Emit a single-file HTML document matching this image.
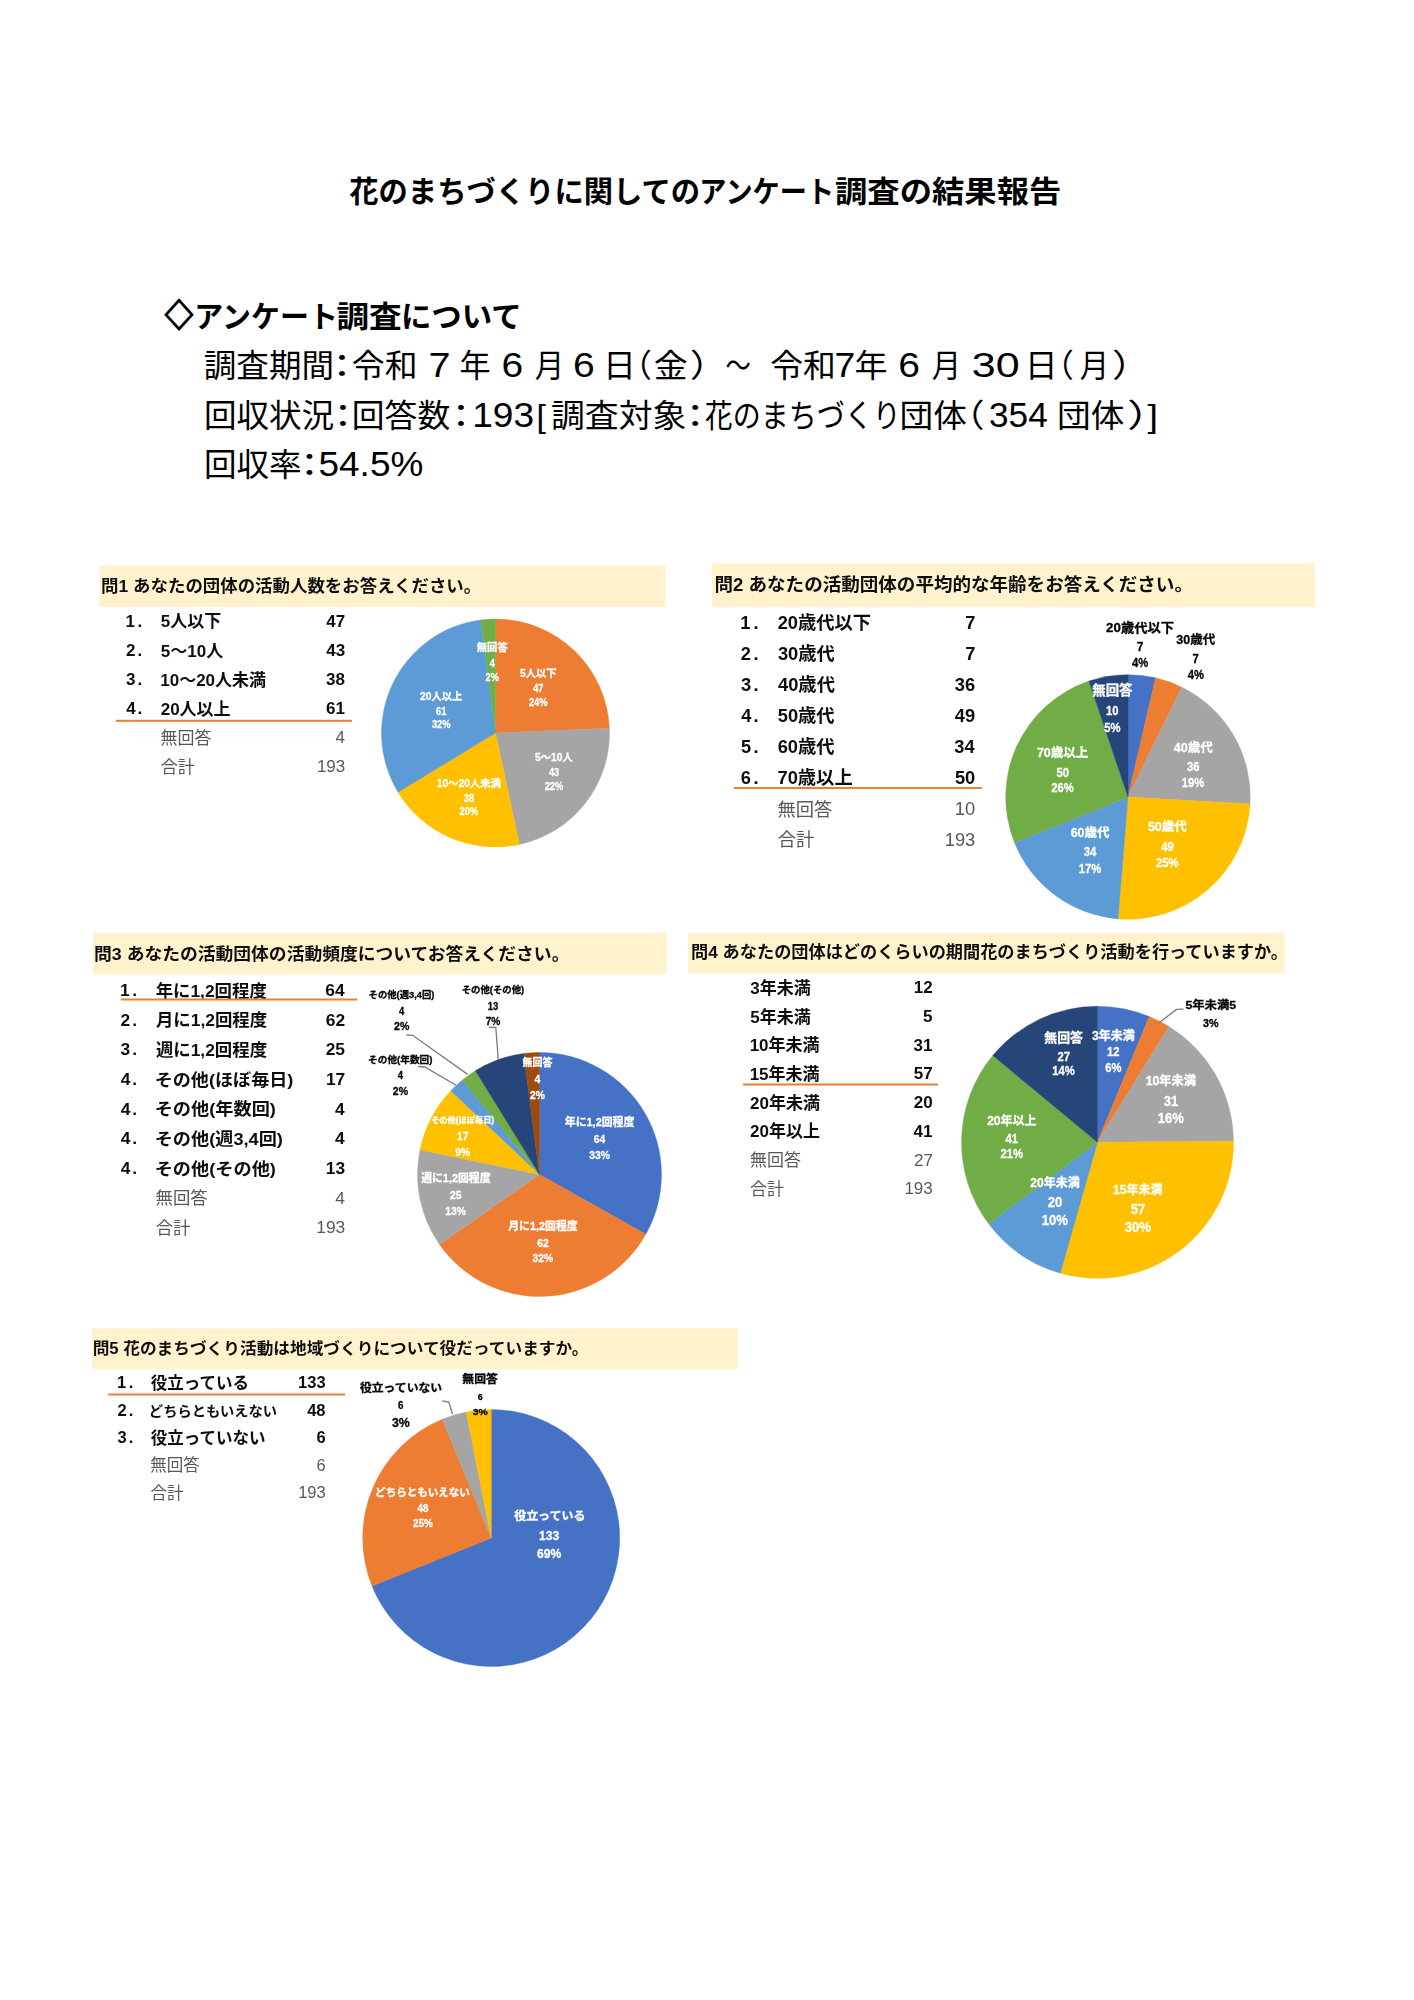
<!DOCTYPE html>
<html lang="ja">
<head>
<meta charset="utf-8">
<title>花のまちづくりに関してのアンケート調査の結果報告</title>
<style>
html,body{margin:0;padding:0;background:#fff;}
body{width:1414px;height:2000px;overflow:hidden;}
svg{display:block;}
text{font-family:"Liberation Sans","Noto Sans CJK JP",sans-serif;white-space:pre;}
</style>
</head>
<body>
<svg width="1414" height="2000" viewBox="0 0 1414 2000">
<rect x="0" y="0" width="1414" height="2000" fill="#ffffff"/>
<text x="349.23" y="202.30" font-size="30" font-weight="700" fill="#000" textLength="350.90" lengthAdjust="spacingAndGlyphs">花のまちづくりに関しての</text>
<text x="699.35" y="202.30" font-size="30" font-weight="700" fill="#000" textLength="134.78" lengthAdjust="spacingAndGlyphs">アンケート</text>
<text x="835.03" y="202.30" font-size="30" font-weight="700" fill="#000" textLength="226.31" lengthAdjust="spacingAndGlyphs">調査の結果報告</text>
<text x="164.86" y="327.30" font-size="31.5" font-weight="700" fill="#000" textLength="28.48" lengthAdjust="spacingAndGlyphs" stroke="#000" stroke-width="1.4">◇</text>
<text x="194.25" y="326.50" font-size="30" font-weight="700" fill="#000" textLength="143.61" lengthAdjust="spacingAndGlyphs">アンケート</text>
<text x="336.42" y="326.50" font-size="30" font-weight="700" fill="#000" textLength="65.23" lengthAdjust="spacingAndGlyphs">調査</text>
<text x="400.92" y="326.50" font-size="30" font-weight="700" fill="#000" textLength="120.75" lengthAdjust="spacingAndGlyphs">について</text>
<text x="203.76" y="377.20" font-size="32" fill="#000" textLength="130.27" lengthAdjust="spacingAndGlyphs">調査期間</text>
<text x="322.80" y="377.20" font-size="32" fill="#000" textLength="38.40" lengthAdjust="spacingAndGlyphs">：</text>
<text x="351.88" y="377.20" font-size="32" fill="#000" textLength="65.70" lengthAdjust="spacingAndGlyphs">令和</text>
<text x="428.47" y="377.20" font-size="35" fill="#000" textLength="22.02" lengthAdjust="spacingAndGlyphs">7</text>
<text x="459.51" y="377.20" font-size="32" fill="#000" textLength="31.13" lengthAdjust="spacingAndGlyphs">年</text>
<text x="501.52" y="377.20" font-size="35" fill="#000" textLength="21.70" lengthAdjust="spacingAndGlyphs">6</text>
<text x="534.85" y="377.20" font-size="32" fill="#000" textLength="29.42" lengthAdjust="spacingAndGlyphs">月</text>
<text x="573.02" y="377.20" font-size="35" fill="#000" textLength="21.70" lengthAdjust="spacingAndGlyphs">6</text>
<text x="603.00" y="377.20" font-size="32" fill="#000" textLength="32.93" lengthAdjust="spacingAndGlyphs">日</text>
<text x="619.46" y="377.20" font-size="32" fill="#000" textLength="32.43" lengthAdjust="spacingAndGlyphs">（</text>
<text x="653.74" y="377.20" font-size="32" fill="#000" textLength="33.98" lengthAdjust="spacingAndGlyphs">金</text>
<text x="689.84" y="377.20" font-size="32" fill="#000" textLength="38.22" lengthAdjust="spacingAndGlyphs">）</text>
<text x="725.44" y="377.20" font-size="32" fill="#000" textLength="25.33" lengthAdjust="spacingAndGlyphs">～</text>
<text x="770.28" y="377.20" font-size="32" fill="#000" textLength="65.70" lengthAdjust="spacingAndGlyphs">令和</text>
<text x="834.58" y="377.20" font-size="35" fill="#000" textLength="20.80" lengthAdjust="spacingAndGlyphs">7</text>
<text x="854.41" y="377.20" font-size="32" fill="#000" textLength="33.11" lengthAdjust="spacingAndGlyphs">年</text>
<text x="898.32" y="377.20" font-size="35" fill="#000" textLength="21.70" lengthAdjust="spacingAndGlyphs">6</text>
<text x="931.75" y="377.20" font-size="32" fill="#000" textLength="29.29" lengthAdjust="spacingAndGlyphs">月</text>
<text x="971.86" y="377.20" font-size="35" fill="#000" textLength="47.82" lengthAdjust="spacingAndGlyphs">30</text>
<text x="1024.80" y="377.20" font-size="32" fill="#000" textLength="32.93" lengthAdjust="spacingAndGlyphs">日</text>
<text x="1041.63" y="377.20" font-size="32" fill="#000" textLength="32.05" lengthAdjust="spacingAndGlyphs">（</text>
<text x="1079.65" y="377.20" font-size="32" fill="#000" textLength="29.29" lengthAdjust="spacingAndGlyphs">月</text>
<text x="1111.92" y="377.20" font-size="32" fill="#000" textLength="38.61" lengthAdjust="spacingAndGlyphs">）</text>
<text x="203.93" y="426.80" font-size="32" fill="#000" textLength="130.21" lengthAdjust="spacingAndGlyphs">回収状況</text>
<text x="323.70" y="426.80" font-size="32" fill="#000" textLength="38.40" lengthAdjust="spacingAndGlyphs">：</text>
<text x="351.81" y="426.80" font-size="32" fill="#000" textLength="98.48" lengthAdjust="spacingAndGlyphs">回答数</text>
<text x="441.70" y="426.80" font-size="32" fill="#000" textLength="38.40" lengthAdjust="spacingAndGlyphs">：</text>
<text x="472.18" y="426.80" font-size="35" fill="#000" textLength="61.85" lengthAdjust="spacingAndGlyphs">193</text>
<text x="536.60" y="426.80" font-size="32" fill="#000" textLength="9.37" lengthAdjust="spacingAndGlyphs">[</text>
<text x="551.01" y="426.80" font-size="32" fill="#000" textLength="135.37" lengthAdjust="spacingAndGlyphs">調査対象</text>
<text x="676.05" y="426.80" font-size="32" fill="#000" textLength="38.40" lengthAdjust="spacingAndGlyphs">：</text>
<text x="704.84" y="426.80" font-size="32" fill="#000" textLength="195.88" lengthAdjust="spacingAndGlyphs">花のまちづくり</text>
<text x="899.64" y="426.80" font-size="32" fill="#000" textLength="67.27" lengthAdjust="spacingAndGlyphs">団体</text>
<text x="948.38" y="426.80" font-size="32" fill="#000" textLength="36.29" lengthAdjust="spacingAndGlyphs">（</text>
<text x="989.06" y="426.80" font-size="35" fill="#000" textLength="58.67" lengthAdjust="spacingAndGlyphs">354</text>
<text x="1057.04" y="426.80" font-size="32" fill="#000" textLength="67.37" lengthAdjust="spacingAndGlyphs">団体</text>
<text x="1126.98" y="426.80" font-size="32" fill="#000" textLength="44.02" lengthAdjust="spacingAndGlyphs">）</text>
<text x="1147.61" y="426.80" font-size="32" fill="#000" textLength="10.49" lengthAdjust="spacingAndGlyphs">]</text>
<text x="203.93" y="476.30" font-size="32" fill="#000" textLength="97.77" lengthAdjust="spacingAndGlyphs">回収率</text>
<text x="290.30" y="476.30" font-size="32" fill="#000" textLength="38.40" lengthAdjust="spacingAndGlyphs">：</text>
<text x="318.52" y="476.30" font-size="35" fill="#000" textLength="104.80" lengthAdjust="spacingAndGlyphs">54.5%</text>
<defs><filter id="soft" x="-2%" y="-2%" width="104%" height="104%"><feGaussianBlur stdDeviation="0.55"/></filter></defs>
<g filter="url(#soft)">
<rect x="99.5" y="565.5" width="566" height="41.3" fill="#FFF2CC"/>
<text x="101.11" y="591.99" font-size="17" font-weight="700" fill="#111111" textLength="380.12" lengthAdjust="spacingAndGlyphs">問1 あなたの団体の活動人数をお答えください。</text>
<text x="125.43" y="626.85" font-size="17" font-weight="700" fill="#111111">1</text>
<text x="137.59" y="626.85" font-size="17" font-weight="700" fill="#111111">.</text>
<text x="160.78" y="627.25" font-size="17" font-weight="700" fill="#111111">5人以下</text>
<text x="326.34" y="626.85" font-size="17" font-weight="700" fill="#111111">47</text>
<text x="125.91" y="656.44" font-size="17" font-weight="700" fill="#111111">2</text>
<text x="137.59" y="656.35" font-size="17" font-weight="700" fill="#111111">.</text>
<text x="160.78" y="656.83" font-size="17" font-weight="700" fill="#111111">5～10人</text>
<text x="326.21" y="656.34" font-size="17" font-weight="700" fill="#111111">43</text>
<text x="126.11" y="685.34" font-size="17" font-weight="700" fill="#111111">3</text>
<text x="137.59" y="685.35" font-size="17" font-weight="700" fill="#111111">.</text>
<text x="160.23" y="685.96" font-size="17" font-weight="700" fill="#111111">10～20人未満</text>
<text x="326.11" y="685.34" font-size="17" font-weight="700" fill="#111111">38</text>
<text x="126.24" y="714.35" font-size="17" font-weight="700" fill="#111111">4</text>
<text x="137.59" y="714.35" font-size="17" font-weight="700" fill="#111111">.</text>
<text x="160.71" y="714.84" font-size="17" font-weight="700" fill="#111111">20人以上</text>
<text x="326.06" y="714.35" font-size="17" font-weight="700" fill="#111111">61</text>
<text x="160.59" y="744.07" font-size="17" fill="#595959">無回答</text>
<text x="335.54" y="743.35" font-size="17" fill="#595959">4</text>
<text x="160.72" y="772.93" font-size="17" fill="#595959">合計</text>
<text x="316.88" y="772.35" font-size="17" fill="#595959">193</text>
<rect x="116" y="719.8" width="236" height="2" fill="#ED7D31"/>
<path d="M495.50 733.00L495.50 619.00A114.00 114.00 0 0 1 609.41 728.36Z" fill="#ED7D31" stroke="#ED7D31" stroke-width="0.4"/>
<path d="M495.50 733.00L609.41 728.36A114.00 114.00 0 0 1 519.44 844.46Z" fill="#A5A5A5" stroke="#A5A5A5" stroke-width="0.4"/>
<path d="M495.50 733.00L519.44 844.46A114.00 114.00 0 0 1 398.03 792.13Z" fill="#FFC000" stroke="#FFC000" stroke-width="0.4"/>
<path d="M495.50 733.00L398.03 792.13A114.00 114.00 0 0 1 480.70 619.97Z" fill="#5B9BD5" stroke="#5B9BD5" stroke-width="0.4"/>
<path d="M495.50 733.00L480.70 619.97A114.00 114.00 0 0 1 495.50 619.00Z" fill="#70AD47" stroke="#70AD47" stroke-width="0.4"/>
<text x="476.67" y="651.47" font-size="10.3" font-weight="700" fill="#fff" textLength="31.19" lengthAdjust="spacingAndGlyphs" stroke="#fff" stroke-width="0.3">無回答</text>
<text x="489.68" y="667.34" font-size="10.3" font-weight="700" fill="#fff" textLength="5.16" lengthAdjust="spacingAndGlyphs" stroke="#fff" stroke-width="0.3">4</text>
<text x="485.56" y="680.80" font-size="10.3" font-weight="700" fill="#fff" textLength="13.40" lengthAdjust="spacingAndGlyphs" stroke="#fff" stroke-width="0.3">2%</text>
<text x="519.99" y="676.69" font-size="10.3" font-weight="700" fill="#fff" stroke="#fff" stroke-width="0.3">5人以下</text>
<text x="533.18" y="691.54" font-size="10.3" font-weight="700" fill="#fff" textLength="10.31" lengthAdjust="spacingAndGlyphs" stroke="#fff" stroke-width="0.3">47</text>
<text x="528.88" y="705.60" font-size="10.3" font-weight="700" fill="#fff" textLength="18.55" lengthAdjust="spacingAndGlyphs" stroke="#fff" stroke-width="0.3">24%</text>
<text x="420.06" y="699.84" font-size="10.3" font-weight="700" fill="#fff" stroke="#fff" stroke-width="0.3">20人以上</text>
<text x="436.00" y="715.05" font-size="10.3" font-weight="700" fill="#fff" textLength="10.31" lengthAdjust="spacingAndGlyphs" stroke="#fff" stroke-width="0.3">61</text>
<text x="431.94" y="728.34" font-size="10.3" font-weight="700" fill="#fff" textLength="18.55" lengthAdjust="spacingAndGlyphs" stroke="#fff" stroke-width="0.3">32%</text>
<text x="535.03" y="761.24" font-size="10.3" font-weight="700" fill="#fff" stroke="#fff" stroke-width="0.3">5～10人</text>
<text x="548.94" y="776.44" font-size="10.3" font-weight="700" fill="#fff" textLength="10.31" lengthAdjust="spacingAndGlyphs" stroke="#fff" stroke-width="0.3">43</text>
<text x="544.68" y="790.10" font-size="10.3" font-weight="700" fill="#fff" textLength="18.55" lengthAdjust="spacingAndGlyphs" stroke="#fff" stroke-width="0.3">22%</text>
<text x="436.69" y="786.51" font-size="10.3" font-weight="700" fill="#fff" stroke="#fff" stroke-width="0.3">10～20人未満</text>
<text x="463.78" y="801.54" font-size="10.3" font-weight="700" fill="#fff" textLength="10.31" lengthAdjust="spacingAndGlyphs" stroke="#fff" stroke-width="0.3">38</text>
<text x="459.58" y="815.45" font-size="10.3" font-weight="700" fill="#fff" textLength="18.55" lengthAdjust="spacingAndGlyphs" stroke="#fff" stroke-width="0.3">20%</text>
<rect x="712" y="563" width="603" height="44" fill="#FFF2CC"/>
<text x="714.52" y="591.38" font-size="18" font-weight="700" fill="#111111" textLength="478.43" lengthAdjust="spacingAndGlyphs">問2 あなたの活動団体の平均的な年齢をお答えください。</text>
<text x="740.35" y="628.80" font-size="18.3" font-weight="700" fill="#111111">1</text>
<text x="753.43" y="628.80" font-size="18.3" font-weight="700" fill="#111111">.</text>
<text x="777.67" y="629.44" font-size="18.3" font-weight="700" fill="#111111">20歳代以下</text>
<text x="965.13" y="628.80" font-size="18.3" font-weight="700" fill="#111111">7</text>
<text x="740.87" y="659.89" font-size="18.3" font-weight="700" fill="#111111">2</text>
<text x="753.43" y="659.80" font-size="18.3" font-weight="700" fill="#111111">.</text>
<text x="777.88" y="660.44" font-size="18.3" font-weight="700" fill="#111111">30歳代</text>
<text x="965.13" y="659.80" font-size="18.3" font-weight="700" fill="#111111">7</text>
<text x="741.08" y="690.79" font-size="18.3" font-weight="700" fill="#111111">3</text>
<text x="753.43" y="690.80" font-size="18.3" font-weight="700" fill="#111111">.</text>
<text x="778.02" y="691.44" font-size="18.3" font-weight="700" fill="#111111">40歳代</text>
<text x="954.81" y="690.79" font-size="18.3" font-weight="700" fill="#111111">36</text>
<text x="741.22" y="721.80" font-size="18.3" font-weight="700" fill="#111111">4</text>
<text x="753.43" y="721.80" font-size="18.3" font-weight="700" fill="#111111">.</text>
<text x="777.74" y="722.44" font-size="18.3" font-weight="700" fill="#111111">50歳代</text>
<text x="954.82" y="721.80" font-size="18.3" font-weight="700" fill="#111111">49</text>
<text x="740.94" y="752.71" font-size="18.3" font-weight="700" fill="#111111">5</text>
<text x="753.43" y="752.80" font-size="18.3" font-weight="700" fill="#111111">.</text>
<text x="777.63" y="753.44" font-size="18.3" font-weight="700" fill="#111111">60歳代</text>
<text x="954.24" y="752.79" font-size="18.3" font-weight="700" fill="#111111">34</text>
<text x="740.83" y="783.80" font-size="18.3" font-weight="700" fill="#111111">6</text>
<text x="753.43" y="783.80" font-size="18.3" font-weight="700" fill="#111111">.</text>
<text x="777.51" y="784.44" font-size="18.3" font-weight="700" fill="#111111">70歳以上</text>
<text x="954.90" y="783.80" font-size="18.3" font-weight="700" fill="#111111">50</text>
<text x="777.53" y="815.57" font-size="18.3" fill="#595959">無回答</text>
<text x="954.86" y="814.80" font-size="18.3" fill="#595959">10</text>
<text x="777.68" y="846.43" font-size="18.3" fill="#595959">合計</text>
<text x="944.77" y="845.80" font-size="18.3" fill="#595959">193</text>
<rect x="734" y="787" width="248" height="2" fill="#ED7D31"/>
<path d="M1128.00 797.00L1128.00 674.70A122.30 122.30 0 0 1 1155.63 677.86Z" fill="#4472C4" stroke="#4472C4" stroke-width="0.4"/>
<path d="M1128.00 797.00L1155.63 677.86A122.30 122.30 0 0 1 1181.83 687.18Z" fill="#ED7D31" stroke="#ED7D31" stroke-width="0.4"/>
<path d="M1128.00 797.00L1181.83 687.18A122.30 122.30 0 0 1 1250.10 803.96Z" fill="#A5A5A5" stroke="#A5A5A5" stroke-width="0.4"/>
<path d="M1128.00 797.00L1250.10 803.96A122.30 122.30 0 0 1 1118.06 918.90Z" fill="#FFC000" stroke="#FFC000" stroke-width="0.4"/>
<path d="M1128.00 797.00L1118.06 918.90A122.30 122.30 0 0 1 1014.54 842.65Z" fill="#5B9BD5" stroke="#5B9BD5" stroke-width="0.4"/>
<path d="M1128.00 797.00L1014.54 842.65A122.30 122.30 0 0 1 1088.88 681.12Z" fill="#70AD47" stroke="#70AD47" stroke-width="0.4"/>
<path d="M1128.00 797.00L1088.88 681.12A122.30 122.30 0 0 1 1128.00 674.70Z" fill="#264478" stroke="#264478" stroke-width="0.4"/>
<text x="1106.14" y="631.63" font-size="13" font-weight="700" fill="#000" textLength="67.94" lengthAdjust="spacingAndGlyphs" stroke="#000" stroke-width="0.3">20歳代以下</text>
<text x="1136.88" y="651.30" font-size="12.5" font-weight="700" fill="#000" textLength="6.26" lengthAdjust="spacingAndGlyphs" stroke="#000" stroke-width="0.3">7</text>
<text x="1131.93" y="667.30" font-size="12.5" font-weight="700" fill="#000" textLength="16.26" lengthAdjust="spacingAndGlyphs" stroke="#000" stroke-width="0.3">4%</text>
<text x="1176.25" y="643.74" font-size="12.5" font-weight="700" fill="#000" stroke="#000" stroke-width="0.3">30歳代</text>
<text x="1192.58" y="663.10" font-size="12.5" font-weight="700" fill="#000" textLength="6.26" lengthAdjust="spacingAndGlyphs" stroke="#000" stroke-width="0.3">7</text>
<text x="1187.63" y="678.50" font-size="12.5" font-weight="700" fill="#000" textLength="16.26" lengthAdjust="spacingAndGlyphs" stroke="#000" stroke-width="0.3">4%</text>
<text x="1092.24" y="695.08" font-size="13.2" font-weight="700" fill="#fff" textLength="40.23" lengthAdjust="spacingAndGlyphs" stroke="#fff" stroke-width="0.3">無回答</text>
<text x="1106.02" y="715.20" font-size="12.5" font-weight="700" fill="#fff" textLength="12.51" lengthAdjust="spacingAndGlyphs" stroke="#fff" stroke-width="0.3">10</text>
<text x="1104.25" y="732.14" font-size="12.5" font-weight="700" fill="#fff" textLength="16.26" lengthAdjust="spacingAndGlyphs" stroke="#fff" stroke-width="0.3">5%</text>
<text x="1173.80" y="752.24" font-size="12.5" font-weight="700" fill="#fff" stroke="#fff" stroke-width="0.3">40歳代</text>
<text x="1187.02" y="771.29" font-size="12.5" font-weight="700" fill="#fff" textLength="12.51" lengthAdjust="spacingAndGlyphs" stroke="#fff" stroke-width="0.3">36</text>
<text x="1181.74" y="787.10" font-size="12.5" font-weight="700" fill="#fff" textLength="22.52" lengthAdjust="spacingAndGlyphs" stroke="#fff" stroke-width="0.3">19%</text>
<text x="1036.89" y="757.44" font-size="12.5" font-weight="700" fill="#fff" stroke="#fff" stroke-width="0.3">70歳以上</text>
<text x="1056.40" y="776.70" font-size="12.5" font-weight="700" fill="#fff" textLength="12.51" lengthAdjust="spacingAndGlyphs" stroke="#fff" stroke-width="0.3">50</text>
<text x="1051.30" y="792.10" font-size="12.5" font-weight="700" fill="#fff" textLength="22.52" lengthAdjust="spacingAndGlyphs" stroke="#fff" stroke-width="0.3">26%</text>
<text x="1147.91" y="831.04" font-size="12.5" font-weight="700" fill="#fff" stroke="#fff" stroke-width="0.3">50歳代</text>
<text x="1161.27" y="850.50" font-size="12.5" font-weight="700" fill="#fff" textLength="12.51" lengthAdjust="spacingAndGlyphs" stroke="#fff" stroke-width="0.3">49</text>
<text x="1156.10" y="866.80" font-size="12.5" font-weight="700" fill="#fff" textLength="22.52" lengthAdjust="spacingAndGlyphs" stroke="#fff" stroke-width="0.3">25%</text>
<text x="1070.67" y="836.74" font-size="12.5" font-weight="700" fill="#fff" stroke="#fff" stroke-width="0.3">60歳代</text>
<text x="1083.84" y="855.89" font-size="12.5" font-weight="700" fill="#fff" textLength="12.51" lengthAdjust="spacingAndGlyphs" stroke="#fff" stroke-width="0.3">34</text>
<text x="1078.74" y="872.50" font-size="12.5" font-weight="700" fill="#fff" textLength="22.52" lengthAdjust="spacingAndGlyphs" stroke="#fff" stroke-width="0.3">17%</text>
<rect x="93" y="932.5" width="573.5" height="42" fill="#FFF2CC"/>
<text x="94.08" y="959.61" font-size="17.3" font-weight="700" fill="#111111" textLength="475.34" lengthAdjust="spacingAndGlyphs">問3 あなたの活動団体の活動頻度についてお答えください。</text>
<text x="119.90" y="995.99" font-size="17.4" font-weight="700" fill="#111111">1</text>
<text x="132.35" y="995.99" font-size="17.4" font-weight="700" fill="#111111">.</text>
<text x="155.66" y="996.62" font-size="17.4" font-weight="700" fill="#111111">年に1,2回程度</text>
<text x="325.24" y="995.99" font-size="17.4" font-weight="700" fill="#111111">64</text>
<text x="120.40" y="1025.77" font-size="17.4" font-weight="700" fill="#111111">2</text>
<text x="132.35" y="1025.69" font-size="17.4" font-weight="700" fill="#111111">.</text>
<text x="155.93" y="1026.29" font-size="17.4" font-weight="700" fill="#111111">月に1,2回程度</text>
<text x="325.84" y="1025.69" font-size="17.4" font-weight="700" fill="#111111">62</text>
<text x="120.60" y="1055.28" font-size="17.4" font-weight="700" fill="#111111">3</text>
<text x="132.35" y="1055.29" font-size="17.4" font-weight="700" fill="#111111">.</text>
<text x="155.92" y="1055.89" font-size="17.4" font-weight="700" fill="#111111">週に1,2回程度</text>
<text x="325.63" y="1055.29" font-size="17.4" font-weight="700" fill="#111111">25</text>
<text x="120.74" y="1084.99" font-size="17.4" font-weight="700" fill="#111111">4</text>
<text x="132.35" y="1084.99" font-size="17.4" font-weight="700" fill="#111111">.</text>
<text x="154.69" y="1085.59" font-size="17.4" font-weight="700" fill="#111111" textLength="138.71" lengthAdjust="spacingAndGlyphs">その他(ほぼ毎日)</text>
<text x="325.91" y="1084.99" font-size="17.4" font-weight="700" fill="#111111">17</text>
<text x="120.74" y="1114.69" font-size="17.4" font-weight="700" fill="#111111">4</text>
<text x="132.35" y="1114.69" font-size="17.4" font-weight="700" fill="#111111">.</text>
<text x="154.68" y="1115.32" font-size="17.4" font-weight="700" fill="#111111" textLength="121.22" lengthAdjust="spacingAndGlyphs">その他(年数回)</text>
<text x="334.92" y="1114.69" font-size="17.4" font-weight="700" fill="#111111">4</text>
<text x="120.74" y="1144.29" font-size="17.4" font-weight="700" fill="#111111">4</text>
<text x="132.35" y="1144.29" font-size="17.4" font-weight="700" fill="#111111">.</text>
<text x="154.68" y="1144.89" font-size="17.4" font-weight="700" fill="#111111" textLength="128.22" lengthAdjust="spacingAndGlyphs">その他(週3,4回)</text>
<text x="334.92" y="1144.29" font-size="17.4" font-weight="700" fill="#111111">4</text>
<text x="120.74" y="1173.99" font-size="17.4" font-weight="700" fill="#111111">4</text>
<text x="132.35" y="1173.99" font-size="17.4" font-weight="700" fill="#111111">.</text>
<text x="154.68" y="1174.59" font-size="17.4" font-weight="700" fill="#111111" textLength="121.22" lengthAdjust="spacingAndGlyphs">その他(その他)</text>
<text x="325.77" y="1173.98" font-size="17.4" font-weight="700" fill="#111111">13</text>
<text x="155.57" y="1204.43" font-size="17.4" fill="#595959">無回答</text>
<text x="335.33" y="1203.69" font-size="17.4" fill="#595959">4</text>
<text x="155.71" y="1233.89" font-size="17.4" fill="#595959">合計</text>
<text x="316.23" y="1233.29" font-size="17.4" fill="#595959">193</text>
<rect x="120.8" y="998.5" width="236.2" height="2" fill="#ED7D31"/>
<path d="M539.50 1174.50L539.50 1052.50A122.00 122.00 0 0 1 645.81 1234.35Z" fill="#4472C4" stroke="#4472C4" stroke-width="0.4"/>
<path d="M539.50 1174.50L645.81 1234.35A122.00 122.00 0 0 1 439.53 1244.43Z" fill="#ED7D31" stroke="#ED7D31" stroke-width="0.4"/>
<path d="M539.50 1174.50L439.53 1244.43A122.00 122.00 0 0 1 420.02 1149.85Z" fill="#A5A5A5" stroke="#A5A5A5" stroke-width="0.4"/>
<path d="M539.50 1174.50L420.02 1149.85A122.00 122.00 0 0 1 450.81 1090.73Z" fill="#FFC000" stroke="#FFC000" stroke-width="0.4"/>
<path d="M539.50 1174.50L450.81 1090.73A122.00 122.00 0 0 1 462.44 1079.92Z" fill="#5B9BD5" stroke="#5B9BD5" stroke-width="0.4"/>
<path d="M539.50 1174.50L462.44 1079.92A122.00 122.00 0 0 1 475.37 1070.71Z" fill="#70AD47" stroke="#70AD47" stroke-width="0.4"/>
<path d="M539.50 1174.50L475.37 1070.71A122.00 122.00 0 0 1 523.66 1053.53Z" fill="#264478" stroke="#264478" stroke-width="0.4"/>
<path d="M539.50 1174.50L523.66 1053.53A122.00 122.00 0 0 1 539.50 1052.50Z" fill="#9E480E" stroke="#9E480E" stroke-width="0.4"/>
<g fill="none" stroke="#7a7a7a" stroke-width="1.3"><path d="M406.2 1034.8L412.7 1035.3L467.6 1074.4"/><path d="M418.1 1066.5L424.6 1067L456.2 1085.3"/><path d="M488.9 1027.4L495.8 1027.4L498.3 1060"/></g>
<text x="368.62" y="997.88" font-size="9.2" font-weight="700" fill="#000" textLength="65.79" lengthAdjust="spacingAndGlyphs" stroke="#000" stroke-width="0.3">その他(週3,4回)</text>
<text x="399.03" y="1014.61" font-size="10.5" font-weight="700" fill="#000" textLength="5.26" lengthAdjust="spacingAndGlyphs" stroke="#000" stroke-width="0.3">4</text>
<text x="394.03" y="1030.37" font-size="10.8" font-weight="700" fill="#000" textLength="15.24" lengthAdjust="spacingAndGlyphs" stroke="#000" stroke-width="0.3">2%</text>
<text x="461.67" y="992.99" font-size="9.2" font-weight="700" fill="#000" textLength="62.50" lengthAdjust="spacingAndGlyphs" stroke="#000" stroke-width="0.3">その他(その他)</text>
<text x="487.72" y="1009.71" font-size="10.5" font-weight="700" fill="#000" textLength="10.51" lengthAdjust="spacingAndGlyphs" stroke="#000" stroke-width="0.3">13</text>
<text x="485.66" y="1025.42" font-size="10.8" font-weight="700" fill="#000" textLength="14.71" lengthAdjust="spacingAndGlyphs" stroke="#000" stroke-width="0.3">7%</text>
<text x="368.14" y="1062.50" font-size="9.2" font-weight="700" fill="#000" textLength="64.34" lengthAdjust="spacingAndGlyphs" stroke="#000" stroke-width="0.3">その他(年数回)</text>
<text x="397.83" y="1079.41" font-size="10.5" font-weight="700" fill="#000" textLength="5.26" lengthAdjust="spacingAndGlyphs" stroke="#000" stroke-width="0.3">4</text>
<text x="392.83" y="1094.77" font-size="10.8" font-weight="700" fill="#000" textLength="15.24" lengthAdjust="spacingAndGlyphs" stroke="#000" stroke-width="0.3">2%</text>
<text x="522.47" y="1065.65" font-size="10" font-weight="700" fill="#fff" stroke="#fff" stroke-width="0.3">無回答</text>
<text x="534.57" y="1082.86" font-size="11.5" font-weight="700" fill="#fff" textLength="5.76" lengthAdjust="spacingAndGlyphs" stroke="#fff" stroke-width="0.3">4</text>
<text x="529.98" y="1098.51" font-size="11.5" font-weight="700" fill="#fff" textLength="14.96" lengthAdjust="spacingAndGlyphs" stroke="#fff" stroke-width="0.3">2%</text>
<text x="564.80" y="1125.79" font-size="11" font-weight="700" fill="#fff" textLength="69.52" lengthAdjust="spacingAndGlyphs" stroke="#fff" stroke-width="0.3">年に1,2回程度</text>
<text x="593.68" y="1142.96" font-size="11.5" font-weight="700" fill="#fff" textLength="11.51" lengthAdjust="spacingAndGlyphs" stroke="#fff" stroke-width="0.3">64</text>
<text x="589.26" y="1158.65" font-size="11.5" font-weight="700" fill="#fff" textLength="20.72" lengthAdjust="spacingAndGlyphs" stroke="#fff" stroke-width="0.3">33%</text>
<text x="431.17" y="1123.42" font-size="8.5" font-weight="700" fill="#fff" textLength="62.94" lengthAdjust="spacingAndGlyphs" stroke="#fff" stroke-width="0.3">その他(ほぼ毎日)</text>
<text x="456.95" y="1139.56" font-size="11.5" font-weight="700" fill="#fff" textLength="11.51" lengthAdjust="spacingAndGlyphs" stroke="#fff" stroke-width="0.3">17</text>
<text x="455.28" y="1155.66" font-size="11.5" font-weight="700" fill="#fff" textLength="14.96" lengthAdjust="spacingAndGlyphs" stroke="#fff" stroke-width="0.3">9%</text>
<text x="421.16" y="1181.76" font-size="11" font-weight="700" fill="#fff" textLength="69.35" lengthAdjust="spacingAndGlyphs" stroke="#fff" stroke-width="0.3">週に1,2回程度</text>
<text x="450.01" y="1198.76" font-size="11.5" font-weight="700" fill="#fff" textLength="11.51" lengthAdjust="spacingAndGlyphs" stroke="#fff" stroke-width="0.3">25</text>
<text x="445.25" y="1214.65" font-size="11.5" font-weight="700" fill="#fff" textLength="20.72" lengthAdjust="spacingAndGlyphs" stroke="#fff" stroke-width="0.3">13%</text>
<text x="508.27" y="1230.06" font-size="11" font-weight="700" fill="#fff" textLength="69.34" lengthAdjust="spacingAndGlyphs" stroke="#fff" stroke-width="0.3">月に1,2回程度</text>
<text x="537.16" y="1246.86" font-size="11.5" font-weight="700" fill="#fff" textLength="11.51" lengthAdjust="spacingAndGlyphs" stroke="#fff" stroke-width="0.3">62</text>
<text x="532.56" y="1262.45" font-size="11.5" font-weight="700" fill="#fff" textLength="20.72" lengthAdjust="spacingAndGlyphs" stroke="#fff" stroke-width="0.3">32%</text>
<rect x="688" y="932.5" width="596.7" height="41" fill="#FFF2CC"/>
<text x="691.13" y="958.33" font-size="16.8" font-weight="700" fill="#111111" textLength="596.92" lengthAdjust="spacingAndGlyphs">問4 あなたの団体はどのくらいの期間花のまちづくり活動を行っていますか。</text>
<text x="750.31" y="993.99" font-size="17" font-weight="700" fill="#111111">3年未満</text>
<text x="913.77" y="993.44" font-size="17" font-weight="700" fill="#111111">12</text>
<text x="750.18" y="1022.69" font-size="17" font-weight="700" fill="#111111">5年未満</text>
<text x="923.02" y="1021.96" font-size="17" font-weight="700" fill="#111111">5</text>
<text x="749.63" y="1051.39" font-size="17" font-weight="700" fill="#111111">10年未満</text>
<text x="913.56" y="1050.74" font-size="17" font-weight="700" fill="#111111">31</text>
<text x="749.63" y="1079.99" font-size="17" font-weight="700" fill="#111111">15年未満</text>
<text x="913.84" y="1079.26" font-size="17" font-weight="700" fill="#111111">57</text>
<text x="750.11" y="1108.69" font-size="17" font-weight="700" fill="#111111">20年未満</text>
<text x="913.79" y="1108.05" font-size="17" font-weight="700" fill="#111111">20</text>
<text x="750.11" y="1137.39" font-size="17" font-weight="700" fill="#111111">20年以上</text>
<text x="913.56" y="1136.75" font-size="17" font-weight="700" fill="#111111">41</text>
<text x="749.99" y="1166.17" font-size="17" fill="#595959">無回答</text>
<text x="913.95" y="1165.54" font-size="17" fill="#595959">27</text>
<text x="750.12" y="1194.73" font-size="17" fill="#595959">合計</text>
<text x="904.38" y="1194.15" font-size="17" fill="#595959">193</text>
<rect x="743" y="1083.5" width="195" height="2" fill="#ED7D31"/>
<path d="M1097.50 1142.30L1097.50 1006.30A136.00 136.00 0 0 1 1149.29 1016.55Z" fill="#4472C4" stroke="#4472C4" stroke-width="0.4"/>
<path d="M1097.50 1142.30L1149.29 1016.55A136.00 136.00 0 0 1 1168.98 1026.60Z" fill="#ED7D31" stroke="#ED7D31" stroke-width="0.4"/>
<path d="M1097.50 1142.30L1168.98 1026.60A136.00 136.00 0 0 1 1233.50 1141.19Z" fill="#A5A5A5" stroke="#A5A5A5" stroke-width="0.4"/>
<path d="M1097.50 1142.30L1233.50 1141.19A136.00 136.00 0 0 1 1060.34 1273.13Z" fill="#FFC000" stroke="#FFC000" stroke-width="0.4"/>
<path d="M1097.50 1142.30L1060.34 1273.13A136.00 136.00 0 0 1 988.66 1223.84Z" fill="#5B9BD5" stroke="#5B9BD5" stroke-width="0.4"/>
<path d="M1097.50 1142.30L988.66 1223.84A136.00 136.00 0 0 1 992.77 1055.54Z" fill="#70AD47" stroke="#70AD47" stroke-width="0.4"/>
<path d="M1097.50 1142.30L992.77 1055.54A136.00 136.00 0 0 1 1097.50 1006.30Z" fill="#264478" stroke="#264478" stroke-width="0.4"/>
<g fill="none" stroke="#7a7a7a" stroke-width="1.3"><path d="M1183.7 1009.1L1176.5 1009.4L1159.1 1022.7"/></g>
<text x="1185.42" y="1009.39" font-size="11.5" font-weight="700" fill="#000" textLength="50.72" lengthAdjust="spacingAndGlyphs" stroke="#000" stroke-width="0.3">5年未満5</text>
<text x="1203.05" y="1026.51" font-size="10.5" font-weight="700" fill="#000" textLength="15.53" lengthAdjust="spacingAndGlyphs" stroke="#000" stroke-width="0.3">3%</text>
<text x="1044.35" y="1042.39" font-size="12.7" font-weight="700" fill="#fff" textLength="38.60" lengthAdjust="spacingAndGlyphs" stroke="#fff" stroke-width="0.3">無回答</text>
<text x="1057.50" y="1060.56" font-size="12.5" font-weight="700" fill="#fff" textLength="12.51" lengthAdjust="spacingAndGlyphs" stroke="#fff" stroke-width="0.3">27</text>
<text x="1052.24" y="1075.00" font-size="12.5" font-weight="700" fill="#fff" textLength="22.52" lengthAdjust="spacingAndGlyphs" stroke="#fff" stroke-width="0.3">14%</text>
<text x="1092.12" y="1039.78" font-size="12" font-weight="700" fill="#fff" textLength="42.67" lengthAdjust="spacingAndGlyphs" stroke="#fff" stroke-width="0.3">3年未満</text>
<text x="1107.01" y="1056.36" font-size="12.5" font-weight="700" fill="#fff" textLength="12.51" lengthAdjust="spacingAndGlyphs" stroke="#fff" stroke-width="0.3">12</text>
<text x="1105.21" y="1071.90" font-size="12.5" font-weight="700" fill="#fff" textLength="16.26" lengthAdjust="spacingAndGlyphs" stroke="#fff" stroke-width="0.3">6%</text>
<text x="1145.73" y="1084.58" font-size="12" font-weight="700" fill="#fff" textLength="50.17" lengthAdjust="spacingAndGlyphs" stroke="#fff" stroke-width="0.3">10年未満</text>
<text x="1163.77" y="1105.98" font-size="14.5" font-weight="700" fill="#fff" textLength="14.52" lengthAdjust="spacingAndGlyphs" stroke="#fff" stroke-width="0.3">31</text>
<text x="1157.70" y="1123.49" font-size="14.5" font-weight="700" fill="#fff" textLength="26.12" lengthAdjust="spacingAndGlyphs" stroke="#fff" stroke-width="0.3">16%</text>
<text x="987.17" y="1125.48" font-size="12" font-weight="700" fill="#fff" stroke="#fff" stroke-width="0.3">20年以上</text>
<text x="1005.61" y="1142.70" font-size="12.5" font-weight="700" fill="#fff" textLength="12.51" lengthAdjust="spacingAndGlyphs" stroke="#fff" stroke-width="0.3">41</text>
<text x="1000.50" y="1157.86" font-size="12.5" font-weight="700" fill="#fff" textLength="22.52" lengthAdjust="spacingAndGlyphs" stroke="#fff" stroke-width="0.3">21%</text>
<text x="1030.32" y="1186.78" font-size="12" font-weight="700" fill="#fff" stroke="#fff" stroke-width="0.3">20年未満</text>
<text x="1047.78" y="1207.49" font-size="14.5" font-weight="700" fill="#fff" textLength="14.52" lengthAdjust="spacingAndGlyphs" stroke="#fff" stroke-width="0.3">20</text>
<text x="1041.70" y="1225.49" font-size="14.5" font-weight="700" fill="#fff" textLength="26.12" lengthAdjust="spacingAndGlyphs" stroke="#fff" stroke-width="0.3">10%</text>
<text x="1113.05" y="1193.78" font-size="12" font-weight="700" fill="#fff" stroke="#fff" stroke-width="0.3">15年未満</text>
<text x="1130.73" y="1214.42" font-size="14.5" font-weight="700" fill="#fff" textLength="14.52" lengthAdjust="spacingAndGlyphs" stroke="#fff" stroke-width="0.3">57</text>
<text x="1124.86" y="1231.98" font-size="14.5" font-weight="700" fill="#fff" textLength="26.12" lengthAdjust="spacingAndGlyphs" stroke="#fff" stroke-width="0.3">30%</text>
<rect x="92" y="1328.5" width="646" height="40.5" fill="#FFF2CC"/>
<text x="92.67" y="1354.14" font-size="16.3" font-weight="700" fill="#111111" textLength="495.85" lengthAdjust="spacingAndGlyphs">問5 花のまちづくり活動は地域づくりについて役だっていますか。</text>
<text x="116.96" y="1388.18" font-size="16.5" font-weight="700" fill="#111111">1</text>
<text x="128.76" y="1388.18" font-size="16.5" font-weight="700" fill="#111111">.</text>
<text x="150.72" y="1388.75" font-size="16.5" font-weight="700" fill="#111111">役立っている</text>
<text x="298.07" y="1388.17" font-size="16.5" font-weight="700" fill="#111111">133</text>
<text x="117.43" y="1415.76" font-size="16.5" font-weight="700" fill="#111111">2</text>
<text x="128.76" y="1415.68" font-size="16.5" font-weight="700" fill="#111111">.</text>
<text x="148.88" y="1415.53" font-size="14.2" font-weight="700" fill="#111111" textLength="128.15" lengthAdjust="spacingAndGlyphs">どちらともいえない</text>
<text x="307.15" y="1415.68" font-size="16.5" font-weight="700" fill="#111111">48</text>
<text x="117.62" y="1443.17" font-size="16.5" font-weight="700" fill="#111111">3</text>
<text x="128.76" y="1443.18" font-size="16.5" font-weight="700" fill="#111111">.</text>
<text x="150.72" y="1443.75" font-size="16.5" font-weight="700" fill="#111111">役立っていない</text>
<text x="316.42" y="1443.18" font-size="16.5" font-weight="700" fill="#111111">6</text>
<text x="150.31" y="1471.38" font-size="16.5" fill="#595959">無回答</text>
<text x="316.55" y="1470.68" font-size="16.5" fill="#595959">6</text>
<text x="150.44" y="1498.95" font-size="16.5" fill="#595959">合計</text>
<text x="298.20" y="1498.38" font-size="16.5" fill="#595959">193</text>
<rect x="108.3" y="1393.5" width="236.7" height="2" fill="#ED7D31"/>
<path d="M491.20 1538.00L491.20 1409.50A128.50 128.50 0 1 1 371.99 1585.96Z" fill="#4472C4" stroke="#4472C4" stroke-width="0.4"/>
<path d="M491.20 1538.00L371.99 1585.96A128.50 128.50 0 0 1 442.27 1419.18Z" fill="#ED7D31" stroke="#ED7D31" stroke-width="0.4"/>
<path d="M491.20 1538.00L442.27 1419.18A128.50 128.50 0 0 1 466.26 1411.94Z" fill="#A5A5A5" stroke="#A5A5A5" stroke-width="0.4"/>
<path d="M491.20 1538.00L466.26 1411.94A128.50 128.50 0 0 1 491.20 1409.50Z" fill="#FFC000" stroke="#FFC000" stroke-width="0.4"/>
<g fill="none" stroke="#8a8a8a" stroke-width="1.5"><path d="M442.3 1400.9L448.7 1401.9L452.5 1414"/></g>
<text x="359.90" y="1391.84" font-size="11.2" font-weight="700" fill="#000" textLength="82.28" lengthAdjust="spacingAndGlyphs" stroke="#000" stroke-width="0.3">役立っていない</text>
<text x="398.09" y="1409.42" font-size="10.8" font-weight="700" fill="#000" textLength="5.41" lengthAdjust="spacingAndGlyphs" stroke="#000" stroke-width="0.3">6</text>
<text x="391.92" y="1426.56" font-size="12.4" font-weight="700" fill="#000" textLength="17.81" lengthAdjust="spacingAndGlyphs" stroke="#000" stroke-width="0.3">3%</text>
<text x="462.38" y="1382.87" font-size="11.6" font-weight="700" fill="#000" textLength="35.56" lengthAdjust="spacingAndGlyphs" stroke="#000" stroke-width="0.3">無回答</text>
<text x="477.75" y="1400.47" font-size="9.8" font-weight="700" fill="#000" textLength="4.91" lengthAdjust="spacingAndGlyphs" stroke="#000" stroke-width="0.3">6</text>
<text x="472.66" y="1414.76" font-size="9.5" font-weight="700" fill="#000" textLength="15.12" lengthAdjust="spacingAndGlyphs" stroke="#000" stroke-width="0.3">3%</text>
<text x="375.13" y="1495.81" font-size="10.3" font-weight="700" fill="#fff" textLength="94.78" lengthAdjust="spacingAndGlyphs" stroke="#fff" stroke-width="0.3">どちらともいえない</text>
<text x="417.57" y="1511.69" font-size="11" font-weight="700" fill="#fff" textLength="11.01" lengthAdjust="spacingAndGlyphs" stroke="#fff" stroke-width="0.3">48</text>
<text x="413.05" y="1526.79" font-size="11" font-weight="700" fill="#fff" textLength="19.81" lengthAdjust="spacingAndGlyphs" stroke="#fff" stroke-width="0.3">25%</text>
<text x="514.15" y="1520.19" font-size="11.6" font-weight="700" fill="#fff" textLength="71.35" lengthAdjust="spacingAndGlyphs" stroke="#fff" stroke-width="0.3">役立っている</text>
<text x="538.90" y="1540.14" font-size="13.5" font-weight="700" fill="#fff" textLength="20.27" lengthAdjust="spacingAndGlyphs" stroke="#fff" stroke-width="0.3">133</text>
<text x="536.98" y="1558.25" font-size="13.5" font-weight="700" fill="#fff" textLength="24.32" lengthAdjust="spacingAndGlyphs" stroke="#fff" stroke-width="0.3">69%</text>
</g>
</svg>
</body>
</html>
